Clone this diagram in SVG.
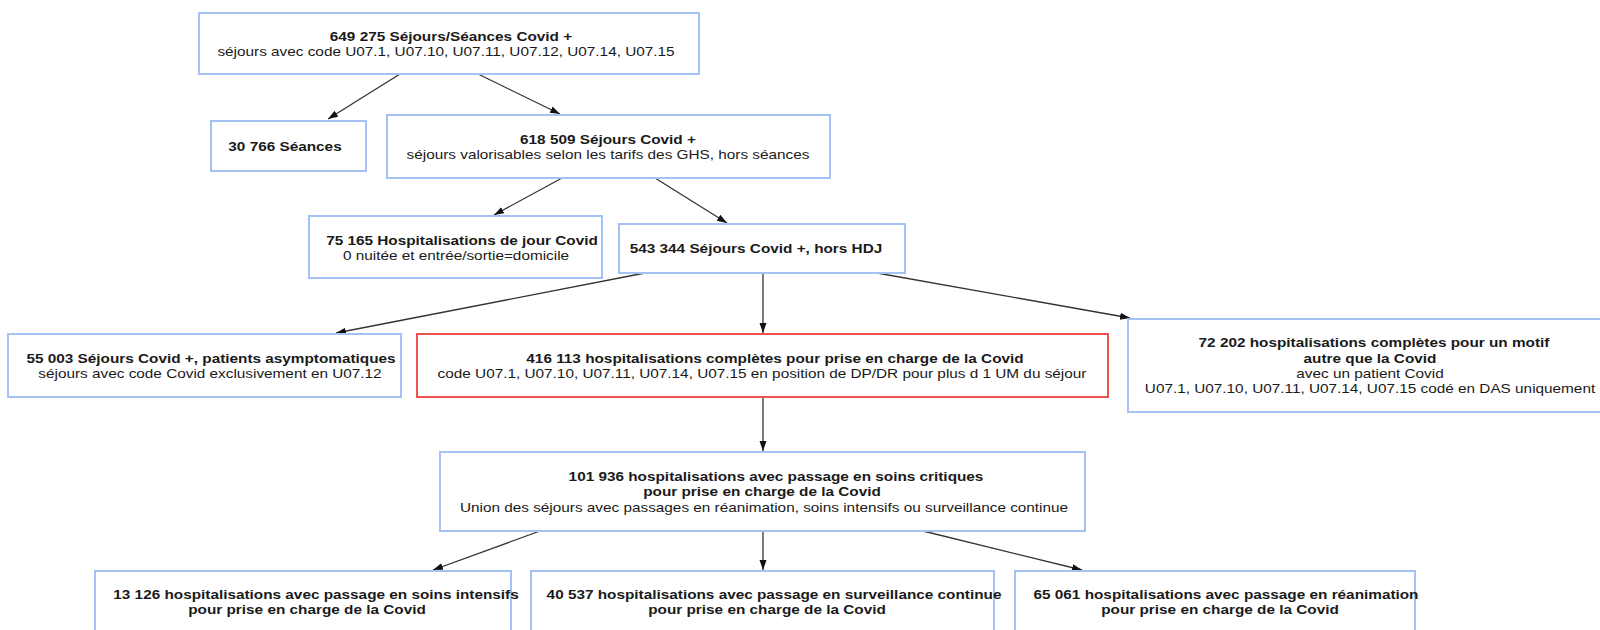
<svg xmlns="http://www.w3.org/2000/svg" width="1600" height="630" viewBox="0 0 1600 630">
<style>
  .box { fill: #ffffff; stroke: #a4c2f4; stroke-width: 2; }
  .red { fill: #ffffff; stroke: #ef5350; stroke-width: 2; }
  text { font-family: "Liberation Sans", Arial, sans-serif; font-size: 13px; fill: #1a1a1a; text-anchor: middle; }
  .b { font-weight: bold; }
  .edge { stroke: #333333; stroke-width: 1.3; fill: none; marker-end: url(#arrow); }
</style>
<defs>
  <marker id="arrow" markerUnits="userSpaceOnUse" markerWidth="11" markerHeight="8" refX="10" refY="3.5" orient="auto">
    <path d="M0,0 L10,3.5 L0,7 z" fill="#111111"/>
  </marker>
</defs>
<rect width="1600" height="630" fill="#ffffff"/>

<g id="connectors">
  <line class="edge" x1="400" y1="74" x2="328" y2="119"/>
  <line class="edge" x1="478" y1="74" x2="560" y2="114"/>
  <line class="edge" x1="562" y1="178" x2="494" y2="215"/>
  <line class="edge" x1="655" y1="178" x2="727" y2="223"/>
  <line class="edge" x1="645" y1="273" x2="336" y2="333"/>
  <line class="edge" x1="763" y1="273" x2="763" y2="333"/>
  <line class="edge" x1="877" y1="273" x2="1130" y2="318"/>
  <line class="edge" x1="763" y1="397" x2="763" y2="451"/>
  <line class="edge" x1="540" y1="531" x2="433" y2="570"/>
  <line class="edge" x1="763" y1="531" x2="763" y2="570"/>
  <line class="edge" x1="923" y1="531" x2="1082" y2="570"/>
</g>

<g id="n1">
  <rect class="box" x="199" y="13" width="500" height="61"/>
  <text class="b" transform="translate(451,40.5) scale(1.18,1)">649 275 Séjours/Séances Covid +</text>
  <text transform="translate(446,56) scale(1.18,1)">séjours avec code U07.1, U07.10, U07.11, U07.12, U07.14, U07.15</text>
</g>

<g id="n2">
  <rect class="box" x="211" y="121" width="155" height="50"/>
  <text class="b" transform="translate(285,150.5) scale(1.18,1)">30 766 Séances</text>
</g>

<g id="n3">
  <rect class="box" x="387" y="115" width="443" height="63"/>
  <text class="b" transform="translate(608,143.5) scale(1.18,1)">618 509 Séjours Covid +</text>
  <text transform="translate(608,159) scale(1.18,1)">séjours valorisables selon les tarifs des GHS, hors séances</text>
</g>

<g id="n4">
  <rect class="box" x="309" y="216" width="293" height="62"/>
  <text class="b" transform="translate(462,244.5) scale(1.18,1)">75 165 Hospitalisations de jour Covid</text>
  <text transform="translate(456,260) scale(1.18,1)">0 nuitée et entrée/sortie=domicile</text>
</g>

<g id="n5">
  <rect class="box" x="619" y="224" width="286" height="49"/>
  <text class="b" transform="translate(756,253) scale(1.18,1)">543 344 Séjours Covid +, hors HDJ</text>
</g>

<g id="n6">
  <rect class="box" x="8" y="334" width="393" height="63"/>
  <text class="b" transform="translate(211,362.5) scale(1.18,1)">55 003 Séjours Covid +, patients asymptomatiques</text>
  <text transform="translate(210,378) scale(1.18,1)">séjours avec code Covid exclusivement en U07.12</text>
</g>

<g id="n7">
  <rect class="red" x="417" y="334" width="691" height="63"/>
  <text class="b" transform="translate(775,362.5) scale(1.18,1)">416 113 hospitalisations complètes pour prise en charge de la Covid</text>
  <text transform="translate(762,378) scale(1.18,1)">code U07.1, U07.10, U07.11, U07.14, U07.15 en position de DP/DR pour plus d 1 UM du séjour</text>
</g>

<g id="n8">
  <rect class="box" x="1128" y="319" width="490" height="93"/>
  <text class="b" transform="translate(1374,347) scale(1.18,1)">72 202 hospitalisations complètes pour un motif</text>
  <text class="b" transform="translate(1370,362.5) scale(1.18,1)">autre que la Covid</text>
  <text transform="translate(1370,378) scale(1.18,1)">avec un patient Covid</text>
  <text transform="translate(1370,393) scale(1.18,1)">U07.1, U07.10, U07.11, U07.14, U07.15 codé en DAS uniquement</text>
</g>

<g id="n9">
  <rect class="box" x="440" y="452" width="645" height="79"/>
  <text class="b" transform="translate(776,480.5) scale(1.18,1)">101 936 hospitalisations avec passage en soins critiques</text>
  <text class="b" transform="translate(762,496) scale(1.18,1)">pour prise en charge de la Covid</text>
  <text transform="translate(764,511.5) scale(1.18,1)">Union des séjours avec passages en réanimation, soins intensifs ou surveillance continue</text>
</g>

<g id="n10">
  <rect class="box" x="95" y="571" width="416" height="70"/>
  <text class="b" transform="translate(316,598.5) scale(1.18,1)">13 126 hospitalisations avec passage en soins intensifs</text>
  <text class="b" transform="translate(307,614) scale(1.18,1)">pour prise en charge de la Covid</text>
</g>

<g id="n11">
  <rect class="box" x="531" y="571" width="463" height="70"/>
  <text class="b" transform="translate(774,598.5) scale(1.18,1)">40 537 hospitalisations avec passage en surveillance continue</text>
  <text class="b" transform="translate(767,614) scale(1.18,1)">pour prise en charge de la Covid</text>
</g>

<g id="n12">
  <rect class="box" x="1015" y="571" width="400" height="70"/>
  <text class="b" transform="translate(1226,598.5) scale(1.18,1)">65 061 hospitalisations avec passage en réanimation</text>
  <text class="b" transform="translate(1220,614) scale(1.18,1)">pour prise en charge de la Covid</text>
</g>
</svg>
